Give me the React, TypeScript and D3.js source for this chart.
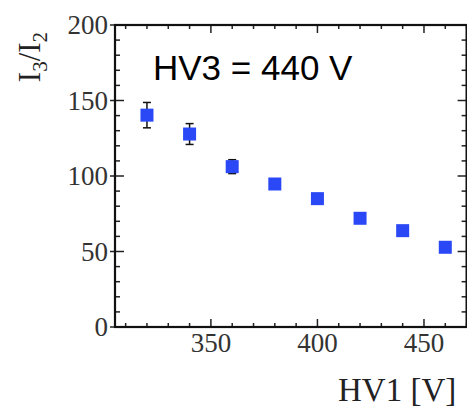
import React, { useEffect, useRef } from 'react'
import * as d3 from 'd3'

// HV1 setting [V]
const hv1 = [320, 340, 360, 380, 400, 420, 440, 460]
// ratio I3/I2
const ratio = [140.3, 127.8, 106.2, 94.7, 85.0, 72.0, 63.8, 52.8]
// symmetric error
const ratioErr = [8.4, 6.9, 4.6, 0, 0, 0, 0, 0]

const xTicks = [350, 400, 450]
const yTicks = [0, 50, 100, 150, 200]

export default function App() {
  const svgRef = useRef<SVGSVGElement>(null)

  useEffect(() => {
    const W = 467, H = 407
    const left = 115, right = 466.6, top = 25, bottom = 327

    const x = d3.scaleLinear().domain([305, 470]).range([left, right])
    const y = d3.scaleLinear().domain([0, 200]).range([bottom, top])

    const svg = d3.select(svgRef.current)
    svg.selectAll('*').remove()
    svg.attr('width', W).attr('height', H)

    const serif = "'Liberation Serif', 'Times New Roman', serif"
    const frame = svg.append('g')

    // minor / major ticks on all four sides, pointing inward
    const xMinor = d3.range(310, 471, 10)
    xMinor.forEach(v => {
      const len = v % 50 === 0 ? 8 : 4
      frame.append('line').attr('x1', x(v)).attr('x2', x(v))
        .attr('y1', bottom).attr('y2', bottom - len)
        .attr('stroke', '#222').attr('stroke-width', 1.5)
      frame.append('line').attr('x1', x(v)).attr('x2', x(v))
        .attr('y1', top).attr('y2', top + len)
        .attr('stroke', '#222').attr('stroke-width', 1.5)
    })
    const yMinor = d3.range(0, 201, 10)
    yMinor.forEach(v => {
      const major = v % 50 === 0
      const len = major ? 9 : 5
      frame.append('line').attr('x1', left - (major ? 5 : 0)).attr('x2', left + len)
        .attr('y1', y(v)).attr('y2', y(v))
        .attr('stroke', '#222').attr('stroke-width', 1.5)
      frame.append('line').attr('x1', right).attr('x2', right - len)
        .attr('y1', y(v)).attr('y2', y(v))
        .attr('stroke', '#222').attr('stroke-width', 1.5)
    })

    frame.append('rect')
      .attr('x', left).attr('y', top)
      .attr('width', right - left).attr('height', bottom - top)
      .attr('fill', 'none').attr('stroke', '#111').attr('stroke-width', 2.2)

    // tick labels
    svg.append('g').selectAll('text').data(xTicks).enter().append('text')
      .attr('x', d => x(d)).attr('y', 352)
      .attr('text-anchor', 'middle')
      .style('font', `27px ${serif}`).attr('fill', '#333')
      .text(d => d)

    svg.append('g').selectAll('text').data(yTicks).enter().append('text')
      .attr('x', 108).attr('y', d => y(d) + 9)
      .attr('text-anchor', 'end')
      .style('font', `27px ${serif}`).attr('fill', '#333')
      .text(d => d)

    // axis titles
    svg.append('text')
      .attr('x', 338).attr('y', 401)
      .style('font', `33px ${serif}`).attr('fill', '#222')
      .text('HV1 [V]')

    const yl = svg.append('text')
      .attr('transform', 'translate(40,57) rotate(-90)')
      .attr('text-anchor', 'middle')
      .style('font', `31px ${serif}`).attr('fill', '#222')
    yl.append('tspan').text('I')
    yl.append('tspan').attr('dy', 7).style('font-size', '21px').text('3')
    yl.append('tspan').attr('dy', -7).text('/I')
    yl.append('tspan').attr('dy', 7).style('font-size', '21px').text('2')

    svg.append('text')
      .attr('x', 153).attr('y', 80)
      .style('font', "35px 'Liberation Sans', Arial, sans-serif").attr('fill', '#000')
      .text('HV3 = 440 V')

    // error bars
    const pts = hv1.map((v, i) => ({ v, r: ratio[i], e: ratioErr[i] }))
    const eb = svg.append('g').attr('stroke', '#111').attr('stroke-width', 1.5)
    pts.filter(d => d.e > 0).forEach(d => {
      eb.append('line').attr('x1', x(d.v)).attr('x2', x(d.v))
        .attr('y1', y(d.r - d.e)).attr('y2', y(d.r + d.e))
      ;[d.r - d.e, d.r + d.e].forEach(val => {
        eb.append('line').attr('x1', x(d.v) - 4).attr('x2', x(d.v) + 4)
          .attr('y1', y(val)).attr('y2', y(val))
      })
    })

    // markers
    const s = 13
    svg.append('g').selectAll('rect').data(pts).enter().append('rect')
      .attr('x', d => x(d.v) - s / 2).attr('y', d => y(d.r) - s / 2)
      .attr('width', s).attr('height', s)
      .attr('fill', '#2a48f5')
  }, [])

  return <svg ref={svgRef} style={{ position: 'absolute', left: 0, top: 0, background: '#fff' }} />
}
